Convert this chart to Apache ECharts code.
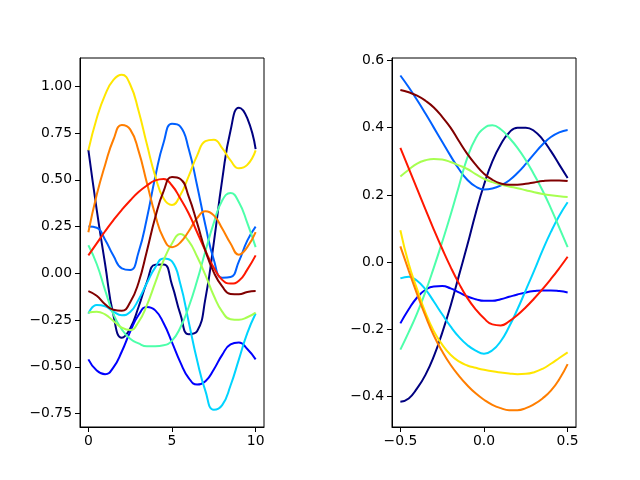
<!DOCTYPE html>
<html><head><meta charset="utf-8">
<script src="https://cdn.jsdelivr.net/npm/echarts@6/dist/echarts.min.js"></script>
<style>html,body{margin:0;padding:0;background:#fff}#c{width:640px;height:480px}</style>
</head><body><div id="c"></div>
<script>
// ---------- data: left panel ----------
const xLeft = [0,0.5,1,1.5,2,2.5,3,3.5,4,4.5,5,5.5,6,6.5,7,7.5,8,8.5,9,9.5,10];
const navyL   = [0.66,0.34,0.05,-0.225,-0.345,-0.295,-0.18,-0.047,0.046,0.047,-0.062,-0.218,-0.326,-0.31,-0.134,0.164,0.50,0.764,0.886,0.83,0.665];
const blueL   = [-0.46,-0.52,-0.54,-0.503,-0.418,-0.312,-0.223,-0.18,-0.198,-0.267,-0.369,-0.476,-0.56,-0.595,-0.577,-0.514,-0.436,-0.38,-0.37,-0.405,-0.46];
const azureL  = [0.25,0.244,0.18,0.094,0.027,0.018,0.113,0.295,0.517,0.70,0.80,0.785,0.665,0.47,0.256,0.073,-0.024,-0.02,0.064,0.175,0.25];
const cyanL   = [-0.215,-0.17,-0.176,-0.205,-0.224,-0.207,-0.141,-0.052,0.032,0.08,0.064,-0.057,-0.26,-0.465,-0.63,-0.73,-0.705,-0.60,-0.46,-0.32,-0.215];
const aquaL   = [0.15,0.05,-0.09,-0.22,-0.30,-0.35,-0.375,-0.39,-0.39,-0.385,-0.36,-0.29,-0.18,-0.04,0.12,0.27,0.39,0.43,0.38,0.27,0.14];
const limeL   = [-0.21,-0.205,-0.22,-0.255,-0.29,-0.303,-0.26,-0.17,-0.05,0.07,0.16,0.21,0.172,0.09,-0.01,-0.12,-0.205,-0.245,-0.248,-0.235,-0.21];
const yellowL = [0.658,0.83,0.955,1.035,1.062,1.01,0.87,0.69,0.52,0.40,0.366,0.419,0.52,0.63,0.707,0.715,0.67,0.604,0.562,0.58,0.658];
const orangeL = [0.22,0.42,0.58,0.716,0.793,0.77,0.655,0.483,0.312,0.186,0.14,0.165,0.225,0.295,0.332,0.31,0.24,0.16,0.10,0.14,0.22];
const redL    = [0.096,0.16,0.225,0.285,0.34,0.39,0.435,0.47,0.497,0.505,0.47,0.40,0.32,0.22,0.12,0.03,-0.035,-0.055,-0.04,0.02,0.096];
const maroonL = [-0.095,-0.12,-0.165,-0.195,-0.2,-0.155,-0.05,0.12,0.30,0.44,0.515,0.505,0.41,0.27,0.12,0.005,-0.07,-0.11,-0.112,-0.1,-0.095];

// ---------- data: right panel ----------
const xRight = [-0.5,-0.45,-0.4,-0.35,-0.3,-0.25,-0.2,-0.15,-0.1,-0.05,0,0.05,0.1,0.15,0.2,0.25,0.3,0.35,0.4,0.45,0.5];
const navyR   = [-0.415,-0.405,-0.375,-0.335,-0.28,-0.21,-0.13,-0.04,0.05,0.145,0.23,0.30,0.35,0.385,0.40,0.40,0.39,0.365,0.33,0.29,0.25];
const blueR   = [-0.182,-0.14,-0.105,-0.082,-0.072,-0.071,-0.078,-0.09,-0.102,-0.11,-0.115,-0.115,-0.11,-0.103,-0.096,-0.09,-0.086,-0.084,-0.084,-0.086,-0.09];
const azureR  = [0.555,0.52,0.482,0.442,0.40,0.358,0.316,0.277,0.245,0.225,0.216,0.219,0.228,0.243,0.265,0.292,0.322,0.35,0.372,0.386,0.393];
const cyanR   = [-0.048,-0.043,-0.055,-0.081,-0.117,-0.155,-0.191,-0.222,-0.246,-0.263,-0.272,-0.262,-0.235,-0.192,-0.14,-0.083,-0.025,0.035,0.09,0.138,0.178];
const aquaR   = [-0.26,-0.208,-0.152,-0.088,-0.016,0.06,0.14,0.226,0.31,0.368,0.398,0.407,0.395,0.37,0.34,0.303,0.26,0.213,0.16,0.103,0.045];
const limeR   = [0.255,0.275,0.293,0.303,0.307,0.305,0.298,0.288,0.277,0.262,0.248,0.238,0.231,0.225,0.22,0.214,0.208,0.203,0.199,0.196,0.194];
const yellowR = [0.095,-0.005,-0.08,-0.15,-0.205,-0.245,-0.275,-0.295,-0.307,-0.314,-0.32,-0.324,-0.328,-0.331,-0.333,-0.332,-0.327,-0.317,-0.302,-0.285,-0.268];
const orangeR = [0.047,-0.025,-0.095,-0.16,-0.218,-0.265,-0.305,-0.338,-0.366,-0.39,-0.409,-0.424,-0.434,-0.44,-0.44,-0.434,-0.422,-0.405,-0.382,-0.348,-0.303];
const redR    = [0.34,0.279,0.218,0.157,0.097,0.04,-0.014,-0.063,-0.106,-0.14,-0.167,-0.185,-0.188,-0.176,-0.157,-0.134,-0.108,-0.08,-0.05,-0.018,0.016];
const maroonR = [0.512,0.505,0.495,0.48,0.46,0.432,0.40,0.36,0.322,0.29,0.263,0.245,0.234,0.23,0.23,0.233,0.237,0.241,0.243,0.243,0.241];

// ---------- tick labels ----------
const xTicksL = [0,5,10];
const yTicksL = [-0.75,-0.5,-0.25,0,0.25,0.5,0.75,1.0];
const xTicksR = [-0.5,0,0.5];
const yTicksR = [-0.4,-0.2,0,0.2,0.4,0.6];

const seriesL = [navyL,blueL,azureL,cyanL,aquaL,limeL,yellowL,orangeL,redL,maroonL];
const seriesR = [navyR,blueR,azureR,cyanR,aquaR,limeR,yellowR,orangeR,redR,maroonR];
const colors = ['#000080','#0000fe','#0060ff','#00d4ff','#4dffaa','#a7ff50','#ffe600','#ff7e00','#ff1700','#800000'];

const minus = s => s.replace('-', '\u2212');
const font = {fontFamily:'DejaVu Sans', fontSize:13.9, color:'#000'};

function xAxisCfg(idx, min, max, ticks, fmt) {
  return {type:'value', gridIndex:idx, min, max,
    axisLine:{show:true, onZero:false, lineStyle:{color:'#000', width:1}},
    axisTick:{show:true, length:5, lineStyle:{color:'#000'}, customValues:ticks},
    axisLabel:Object.assign({margin:7, customValues:ticks, formatter:v=>minus(fmt(v))}, font),
    splitLine:{show:false}};
}
function yAxisCfg(idx, min, max, ticks, fmt) {
  return {type:'value', gridIndex:idx, min, max,
    axisLine:{show:true, onZero:false, lineStyle:{color:'#000', width:1}},
    axisTick:{show:true, length:5, lineStyle:{color:'#000'}, customValues:ticks},
    axisLabel:Object.assign({margin:8, customValues:ticks, formatter:v=>minus(fmt(v))}, font),
    splitLine:{show:false}};
}

const series = [];
seriesL.forEach((arr,i)=>series.push({type:'line', xAxisIndex:0, yAxisIndex:0, showSymbol:false, smooth:true,
  data: xLeft.map((x,k)=>[x,arr[k]]), lineStyle:{width:2, color:colors[i]}, itemStyle:{color:colors[i]}, animation:false}));
seriesR.forEach((arr,i)=>series.push({type:'line', xAxisIndex:1, yAxisIndex:1, showSymbol:false, smooth:true,
  data: xRight.map((x,k)=>[x,arr[k]]), lineStyle:{width:2, color:colors[i]}, itemStyle:{color:colors[i]}, animation:false}));

const chart = echarts.init(document.getElementById('c'), null, {renderer:'canvas'});
chart.setOption({
  animation:false,
  backgroundColor:'#fff',
  grid:[
    {left:80, top:58, width:184, height:369, show:true, borderColor:'#000', borderWidth:1, containLabel:false},
    {left:392, top:58, width:184, height:369, show:true, borderColor:'#000', borderWidth:1, containLabel:false}
  ],
  xAxis:[
    xAxisCfg(0, -0.5, 10.5, xTicksL, v=>String(Math.round(v))),
    xAxisCfg(1, -0.55, 0.55, xTicksR, v=>v.toFixed(1))
  ],
  yAxis:[
    yAxisCfg(0, -0.822, 1.152, yTicksL, v=>v.toFixed(2)),
    yAxisCfg(1, -0.49, 0.607, yTicksR, v=>v.toFixed(1))
  ],
  series
});
</script>
</body></html>
